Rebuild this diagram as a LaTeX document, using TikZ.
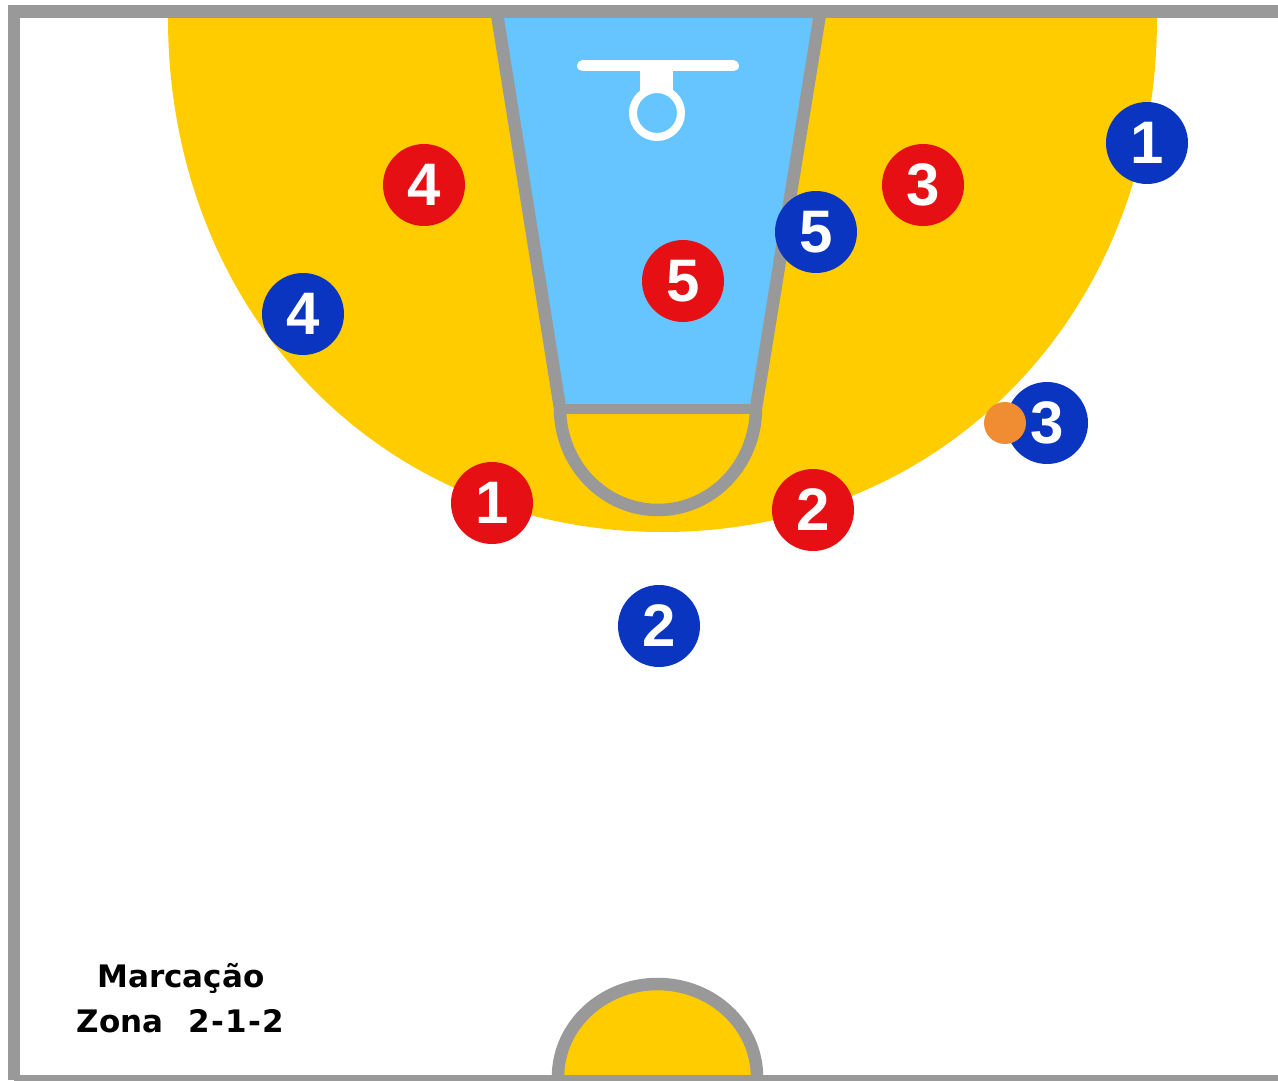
\documentclass[tikz,border=0pt]{standalone}
\usepackage{fontspec}
\setmainfont{Liberation Sans}
\newfontfamily\labelfont{DejaVu Sans}
\definecolor{courtgray}{HTML}{999999}
\definecolor{keyyellow}{HTML}{FFCC00}
\definecolor{lanesky}{HTML}{66C4FF}
\definecolor{redteam}{HTML}{E60F14}
\definecolor{blueteam}{HTML}{0A35C0}
\definecolor{ballorange}{HTML}{F08C32}
\newcommand{\kn}{\hspace{1.25pt}}
\tikzset{
  x=1pt,y=-1pt,
  player/.style={circle,minimum size=82pt,inner sep=0pt,text=white,font=\fontsize{60}{60}\selectfont\bfseries},
  redp/.style={player,fill=redteam},
  bluep/.style={player,fill=blueteam},
  line/.style={draw=courtgray,line width=12.5pt},
  caption/.style={font=\labelfont\fontsize{31}{31}\selectfont\bfseries,text=black,inner sep=0pt}
}
\begin{document}
\begin{tikzpicture}
\useasboundingbox (0,0) rectangle (1278,1081);
\fill[white] (0,0) rectangle (1278,1081);
% three-point area
\fill[keyyellow] (168,12) -- (168,18) .. controls (168,311.6) and (380,532) .. (662.5,532)
  .. controls (945,532) and (1157,311.6) .. (1157,18) -- (1157,12) -- cycle;
% lane
\fill[lanesky] (497,18) -- (820,18) -- (757,408) -- (560,408) -- cycle;
\draw[line,line join=round] (497,14) -- (560,408) arc[start angle=180,end angle=0,x radius=98,y radius=102] -- (820,14);
\draw[draw=courtgray,line width=10pt] (560,409) -- (756,409);
% centre circle
\fill[keyyellow] (558,1077) arc[start angle=180,end angle=0,x radius=99.5,y radius=-93] -- cycle;
\draw[line] (558,1077) arc[start angle=180,end angle=0,x radius=99.5,y radius=-93];
% court border
\draw[draw=courtgray,line width=12.5pt] (1278,11.5) -- (14,11.5) -- (14,1080);
\draw[draw=courtgray,line width=6pt] (14,1077.5) -- (1278,1077.5);
% hoop
\draw[white,line width=11pt,line cap=round] (582.5,66) -- (733.5,66);
\fill[white] (640,66) -- (673,66) -- (673,92) -- (640,92) -- cycle;
\draw[white,line width=8pt] (657,113) circle[radius=24];
% players
\node[redp] (r4) at (424,185) {4};
\node[redp] (r3) at (923,185) {3};
\node[redp] (r5) at (683,281) {5};
\node[redp] (r1) at (492,503) {1};
\node[redp] (r2) at (813,510) {2};
\node[bluep] (b1) at (1147,143) {1};
\node[bluep] (b5) at (816,232) {5};
\node[bluep] (b4) at (303,314) {4};
\node[bluep] (b3) at (1047,423) {3};
\node[bluep] (b2) at (659,626) {2};
\node[circle,fill=ballorange,minimum size=42pt,inner sep=0pt] (ball) at (1005,423) {};
% caption
\node[caption] (cap1) at (181,978) {Marcação};
\node[caption] (cap2) at (180.5,1021) {Zona\hspace{0.8em}2\kn-\kn1\kn-\kn2};
\end{tikzpicture}
\end{document}
